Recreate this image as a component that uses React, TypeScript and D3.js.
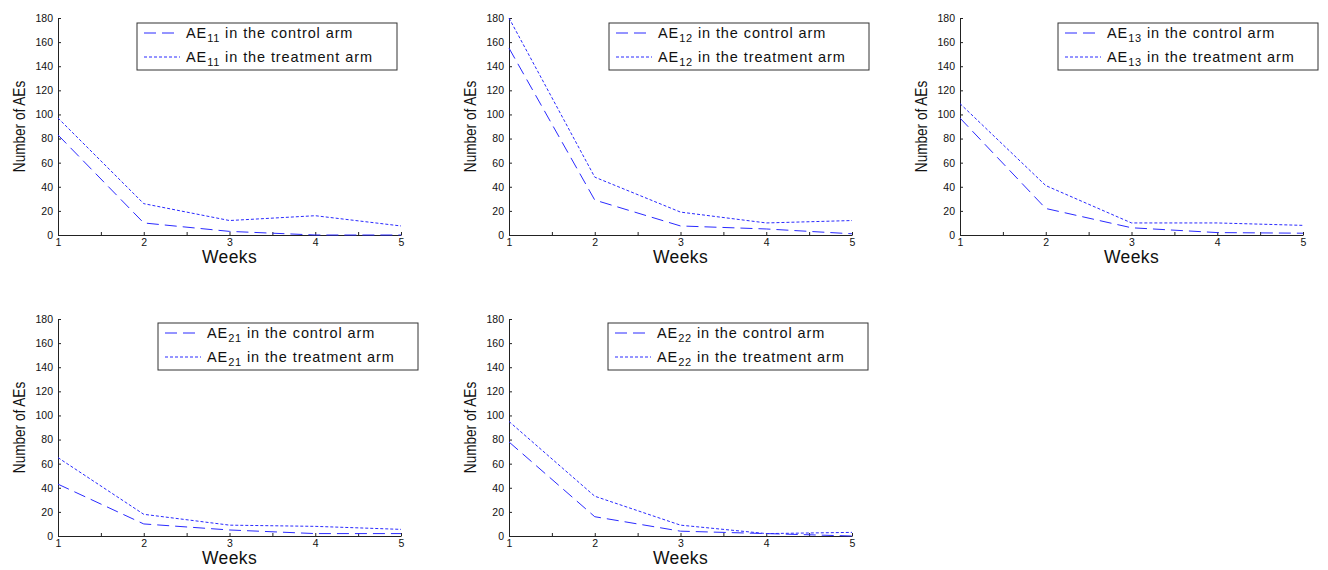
import React, { useEffect, useRef } from 'react';
import * as d3 from 'd3';

const weeks = [1, 2, 3, 4, 5];
const xTicks = [1, 1.5, 2, 2.5, 3, 3.5, 4, 4.5, 5];
const yTicks = [0, 20, 40, 60, 80, 100, 120, 140, 160, 180];

const ae11Control = [83, 10, 3, 0, 0];
const ae11Treatment = [97, 26, 12, 16, 7.5];
const ae12Control = [155, 29, 7.5, 5, 1];
const ae12Treatment = [180, 48, 19, 10, 12];
const ae13Control = [97, 22, 6, 2, 1.5];
const ae13Treatment = [109, 41, 10, 10, 8];
const ae21Control = [43, 10, 5, 2, 2];
const ae21Treatment = [65, 18, 9, 8, 5.5];
const ae22Control = [78, 16, 4, 2, 0];
const ae22Treatment = [95, 33, 9, 2, 3];

const panelLabels = ['11', '12', '13', '21', '22'];

// layout of each panel: axis origin and legend offset
const panelLayout = [
  { x: 58, y: 18, legendDx: 79, legendDy: 5 },
  { x: 509, y: 18, legendDx: 100, legendDy: 5 },
  { x: 960, y: 18, legendDx: 98, legendDy: 5 },
  { x: 58, y: 319, legendDx: 100, legendDy: 4 },
  { x: 509, y: 319, legendDx: 99, legendDy: 4 },
];

const FONT = '"Liberation Sans", Arial, sans-serif';
const LINE_COLOR = '#2a2aff';

export default function App() {
  const ref = useRef<SVGSVGElement | null>(null);

  useEffect(() => {
    const series = [
      [ae11Control, ae11Treatment],
      [ae12Control, ae12Treatment],
      [ae13Control, ae13Treatment],
      [ae21Control, ae21Treatment],
      [ae22Control, ae22Treatment],
    ];
    const width = 343,
      height = 217;

    const svg = d3.select(ref.current);
    svg.selectAll('*').remove();

    const xScale = d3.scaleLinear().domain([1, 5]).range([0, width]);
    const yScale = d3.scaleLinear().domain([0, 180]).range([height, 0]);

    series.forEach(([control, treatment], i) => {
      const lay = panelLayout[i];
      const g = svg
        .append('g')
        .attr('transform', `translate(${lay.x},${lay.y})`)
        .style('font-family', FONT);

      // axes: ticks point inward like matlab
      const xAxis = d3
        .axisBottom(xScale)
        .tickValues(xTicks)
        .tickSizeInner(-3)
        .tickSizeOuter(0)
        .tickPadding(4)
        .tickFormat(d => (Number.isInteger(+d) ? String(d) : ''));
      const yAxis = d3
        .axisLeft(yScale)
        .tickValues(yTicks)
        .tickSizeInner(-3)
        .tickSizeOuter(0)
        .tickPadding(5);

      const xg = g
        .append('g')
        .attr('transform', `translate(0,${height})`)
        .call(xAxis);
      const yg = g.append('g').call(yAxis);
      [xg, yg].forEach(ax => {
        ax.select('.domain').attr('stroke', '#222');
        ax.selectAll('.tick line').attr('stroke', '#222');
        ax.selectAll('.tick text')
          .attr('fill', '#111')
          .style('font-size', '10.5px')
          .style('font-family', FONT);
      });

      const line = d3
        .line<number>()
        .x((_, j) => xScale(weeks[j]))
        .y(d => yScale(d));

      g.append('path')
        .datum(treatment)
        .attr('fill', 'none')
        .attr('stroke', LINE_COLOR)
        .attr('stroke-width', 1)
        .attr('stroke-dasharray', '3,2')
        .attr('d', line);
      g.append('path')
        .datum(control)
        .attr('fill', 'none')
        .attr('stroke', LINE_COLOR)
        .attr('stroke-width', 1)
        .attr('stroke-dasharray', '12,6')
        .attr('d', line);

      // axis labels (y label is a tall, narrow face in the original)
      g.append('text')
        .attr('transform', `translate(${-33},${height / 2}) rotate(-90) scale(0.8,1)`)
        .attr('text-anchor', 'middle')
        .style('font-size', '17px')
        .attr('fill', '#111')
        .text('Number of AEs');
      g.append('text')
        .attr('x', width / 2)
        .attr('y', height + 28)
        .attr('text-anchor', 'middle')
        .style('font-size', '17.5px')
        .style('letter-spacing', '0.4px')
        .attr('fill', '#111')
        .text('Weeks');

      // legend
      const lg = g
        .append('g')
        .attr('transform', `translate(${lay.legendDx},${lay.legendDy})`);
      lg.append('rect')
        .attr('width', 260)
        .attr('height', 47)
        .attr('fill', 'white')
        .attr('stroke', '#333');
      const entries = [
        { label: 'in the control arm', dash: '12,6' },
        { label: 'in the treatment arm', dash: '3,2' },
      ];
      entries.forEach((e, k) => {
        const cy = 10 + k * 24;
        lg.append('line')
          .attr('x1', 7)
          .attr('x2', 43)
          .attr('y1', cy)
          .attr('y2', cy)
          .attr('stroke', LINE_COLOR)
          .attr('stroke-dasharray', e.dash);
        const t = lg
          .append('text')
          .attr('x', 49)
          .attr('y', cy + 5)
          .attr('fill', '#111')
          .style('font-size', '14.5px')
          .style('letter-spacing', '0.9px');
        t.append('tspan').text('AE');
        t.append('tspan')
          .attr('dy', 4)
          .style('font-size', '11px')
          .style('letter-spacing', '0.8px')
          .text(panelLabels[i]);
        t.append('tspan').attr('dy', -4).text(' ' + e.label);
      });
    });
  }, []);

  return (
    <svg
      ref={ref}
      width={1328}
      height={570}
      style={{ position: 'absolute', left: 0, top: 0, background: 'white' }}
    />
  );
}
